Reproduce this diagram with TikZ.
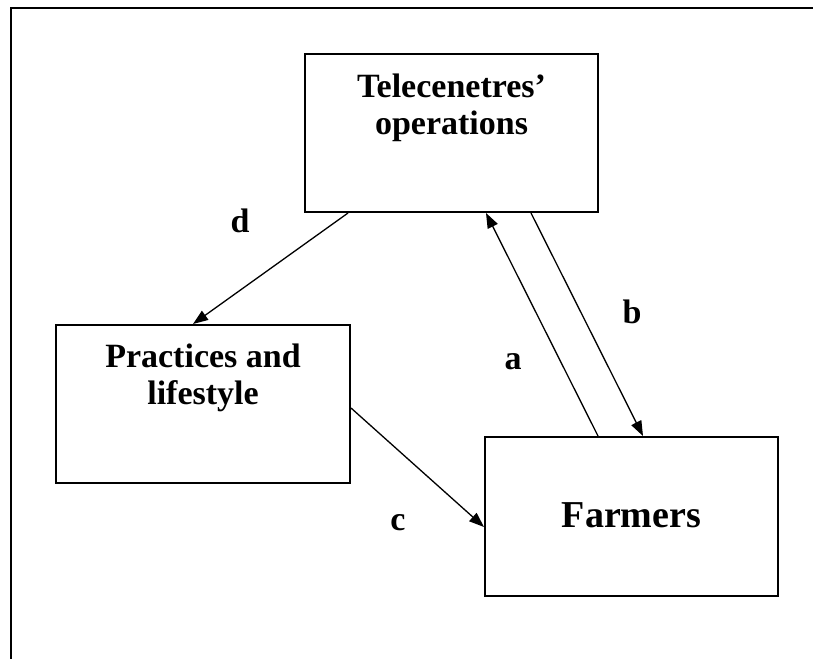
\documentclass[tikz,border=0pt]{standalone}
\usepackage{fontspec}
\setmainfont{Liberation Serif}
\usepackage{tikz}
\usetikzlibrary{calc}
\usetikzlibrary{arrows.meta}
\usetikzlibrary{positioning}
\tikzstyle{every node}=[font=\bfseries\fontsize{34}{37}\selectfont]
\tikzstyle{box}=[draw, line width=2pt, rectangle, inner sep=0pt]
\tikzstyle{boxtext}=[inner sep=0pt, align=center]
\tikzstyle{link}=[line width=1.3pt, -{Triangle[length=15pt,width=11pt]}]

\begin{document}
\begin{tikzpicture}[x=1pt, y=-1pt]
                \useasboundingbox (0,0) rectangle (813,659);
                \draw[line width=2pt] (813,8) -- (11,8) -- (11,659);
                % boxes
                \node[box, minimum width=293pt, minimum height=158pt] (tele) at (451.5,133) {};
                \node[box, minimum width=294pt, minimum height=158pt] (prac) at (203,404) {};
                \node[box, minimum width=293pt, minimum height=159pt] (farm) at (631.5,516.5) {};
                \node[boxtext, anchor=north] (teletext) at (451.5,74) {Telecenetres'\\operations};
                \node[boxtext, anchor=north] (practext) at (203,344) {Practices and\\lifestyle};
                \node[boxtext, anchor=base, font=\bfseries\fontsize{38}{40}\selectfont] (farmtext) at (631.5,527) {Farmers};
                % arrows
                \draw[link] ([xshift=-103.5pt]tele.south) -- ([xshift=-10pt]prac.north);
                \draw[link] ([xshift=-33.5pt]farm.north) -- ([xshift=34.5pt]tele.south);
                \draw[link] ([xshift=79.5pt]tele.south) -- ([xshift=11.5pt]farm.north);
                \draw[link] ([yshift=-4pt]prac.east) -- ([yshift=-10.5pt]farm.west);
                % labels
                \node[anchor=base] (labd) at (240,232) {d};
                \node[anchor=base] (labb) at (632,323) {b};
                \node[anchor=base] (laba) at (513,369) {a};
                \node[anchor=base] (labc) at (398,530) {c};
            \end{tikzpicture}
\end{document}
